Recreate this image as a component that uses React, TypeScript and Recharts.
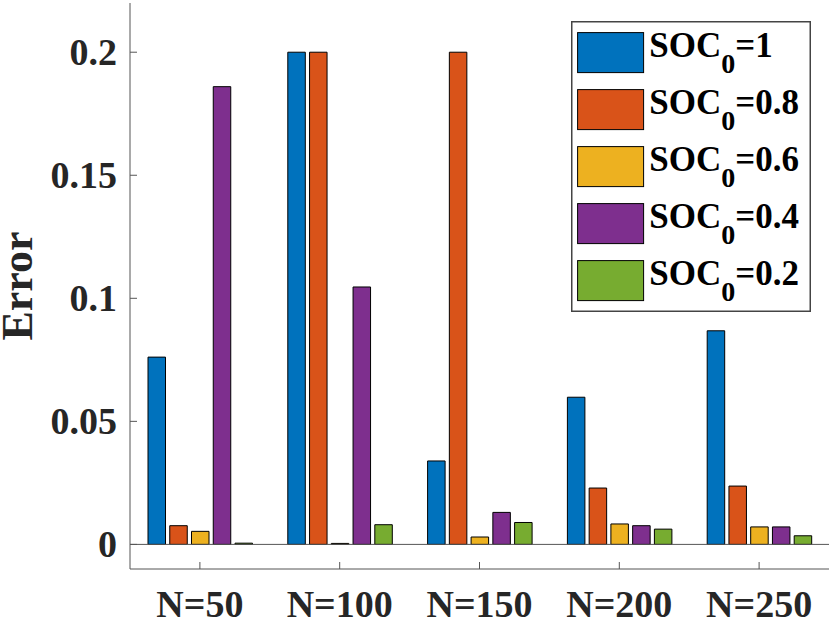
import { BarChart, Bar, XAxis, YAxis, Legend, ReferenceLine } from "recharts";

const categories = ["N=50", "N=100", "N=150", "N=200", "N=250"];
const soc1 = [0.0761, 0.2, 0.0339, 0.0598, 0.0868];
const soc08 = [0.0076, 0.2, 0.2, 0.0229, 0.0237];
const soc06 = [0.0053, 0.0004, 0.003, 0.0083, 0.0071];
const soc04 = [0.186, 0.1046, 0.013, 0.0076, 0.0071];
const soc02 = [0.0005, 0.008, 0.0089, 0.0062, 0.0035];
const socLabels = ["1", "0.8", "0.6", "0.4", "0.2"];
const colors = ["#0072BD", "#D95319", "#EDB120", "#7E2F8E", "#77AC30"];
const yTicks = [0, 0.05, 0.1, 0.15, 0.2];

const series = [soc1, soc08, soc06, soc04, soc02];
const keys = ["s1", "s08", "s06", "s04", "s02"];
const data = categories.map((name, i) => {
  const row: Record<string, any> = { name, pos: i + 1 };
  keys.forEach((k, j) => (row[k] = series[j][i]));
  return row;
});

const FONT = "'Liberation Serif', 'Times New Roman', serif";
const TXT = "#262626";
const AXIS = "#555";
const TICK_LEN = 7;

function XTick(props: any) {
  const { x, y, payload } = props;
  return (
    <g>
      <line x1={x} x2={x} y1={y} y2={y - TICK_LEN} stroke={AXIS} />
      <text x={x} y={y + 48} textAnchor="middle" fontFamily={FONT} fontWeight="bold" fontSize={38} fill={TXT}>
        {payload.value}
      </text>
    </g>
  );
}

function TopTick(props: any) {
  const { x, y } = props;
  return <line x1={x} x2={x} y1={y} y2={y + TICK_LEN} stroke={AXIS} />;
}

function YTick(props: any) {
  const { x, y, payload } = props;
  return (
    <g>
      <line x1={x} x2={x + TICK_LEN} y1={y} y2={y} stroke={AXIS} />
      <text x={x - 13} y={y} dy="0.34em" textAnchor="end" fontFamily={FONT} fontWeight="bold" fontSize={38} fill={TXT}>
        {String(payload.value)}
      </text>
    </g>
  );
}

function RightTick(props: any) {
  const { x, y } = props;
  return <line x1={x} x2={x - TICK_LEN} y1={y} y2={y} stroke={AXIS} />;
}

function ErrorLabel(props: any) {
  const { viewBox } = props;
  const cy = viewBox.y + viewBox.height / 2;
  const cx = 32;
  return (
    <text x={cx} y={cy} transform={`rotate(-90, ${cx}, ${cy})`} textAnchor="middle" fontFamily={FONT} fontWeight="bold" fontSize={44} fill={TXT}>
      Error
    </text>
  );
}

function LegendBox(props: any) {
  const { payload = [] } = props;
  const items = [...payload].sort((a: any, b: any) => keys.indexOf(a.dataKey) - keys.indexOf(b.dataKey));
  return (
    <svg width={240} height={291}>
      <rect x={0.75} y={0.75} width={238.5} height={289.5} fill="#fff" stroke="#444" strokeWidth={1.5} />
      {items.map((entry: any, i: number) => {
        const idx = keys.indexOf(entry.dataKey);
        return (
          <g key={entry.dataKey}>
            <rect x={6.6} y={11.6 + i * 57} width={66} height={40} fill={colors[idx]} stroke="#000" strokeWidth={1} />
            <text x={78.3} y={36 + i * 57} fontFamily={FONT} fontWeight="bold" fontSize={35} fill="#000">
              SOC
              <tspan fontSize={28} dy={16}>0</tspan>
              <tspan fontSize={35} dy={-16}>={socLabels[idx]}</tspan>
            </text>
          </g>
        );
      })}
    </svg>
  );
}

export default function App() {
  return (
    <div style={{ position: "absolute", left: 0, top: 0, background: "#fff" }}>
      <BarChart
        width={830}
        height={619}
        data={data}
        margin={{ top: 3, right: 1, bottom: 0, left: 0 }}
        barSize={17.5}
        barGap={4.25}
      >
        <XAxis
          dataKey="name"
          height={50}
          interval={0}
          tickSize={0}
          tickMargin={0}
          tickLine={false}
          tick={<XTick />}
          axisLine={{ stroke: AXIS }}
        />
        <XAxis
          xAxisId="top"
          orientation="top"
          type="number"
          dataKey="pos"
          domain={[0.5, 5.5]}
          ticks={categories.map((_, i) => i + 1)}
          allowDataOverflow
          height={0}
          tickSize={0}
          tickMargin={0}
          tickLine={false}
          tick={<TopTick />}
          axisLine={{ stroke: AXIS }}
        />
        <YAxis
          width={130}
          type="number"
          domain={[-0.01, 0.22]}
          ticks={yTicks}
          allowDataOverflow
          tickSize={0}
          tickMargin={0}
          tickLine={false}
          tick={<YTick />}
          axisLine={{ stroke: AXIS }}
          label={<ErrorLabel />}
        />
        <YAxis
          yAxisId="right"
          orientation="right"
          width={0}
          type="number"
          domain={[-0.01, 0.22]}
          ticks={yTicks}
          allowDataOverflow
          tickSize={0}
          tickMargin={0}
          tickLine={false}
          tick={<RightTick />}
          axisLine={{ stroke: AXIS }}
        />
        <ReferenceLine y={0} stroke={AXIS} strokeWidth={1} />
        {keys.map((k, j) => (
          <Bar
            key={k}
            dataKey={k}
            name={`SOC0=${socLabels[j]}`}
            fill={colors[j]}
            stroke="#000"
            strokeWidth={1}
            isAnimationActive={false}
          />
        ))}
        <Legend
          layout="vertical"
          align="center"
          verticalAlign="middle"
          itemSorter={null}
          content={<LegendBox />}
          wrapperStyle={{ position: "absolute", left: 571, top: 21, width: 240, height: 291 }}
        />
      </BarChart>
    </div>
  );
}
